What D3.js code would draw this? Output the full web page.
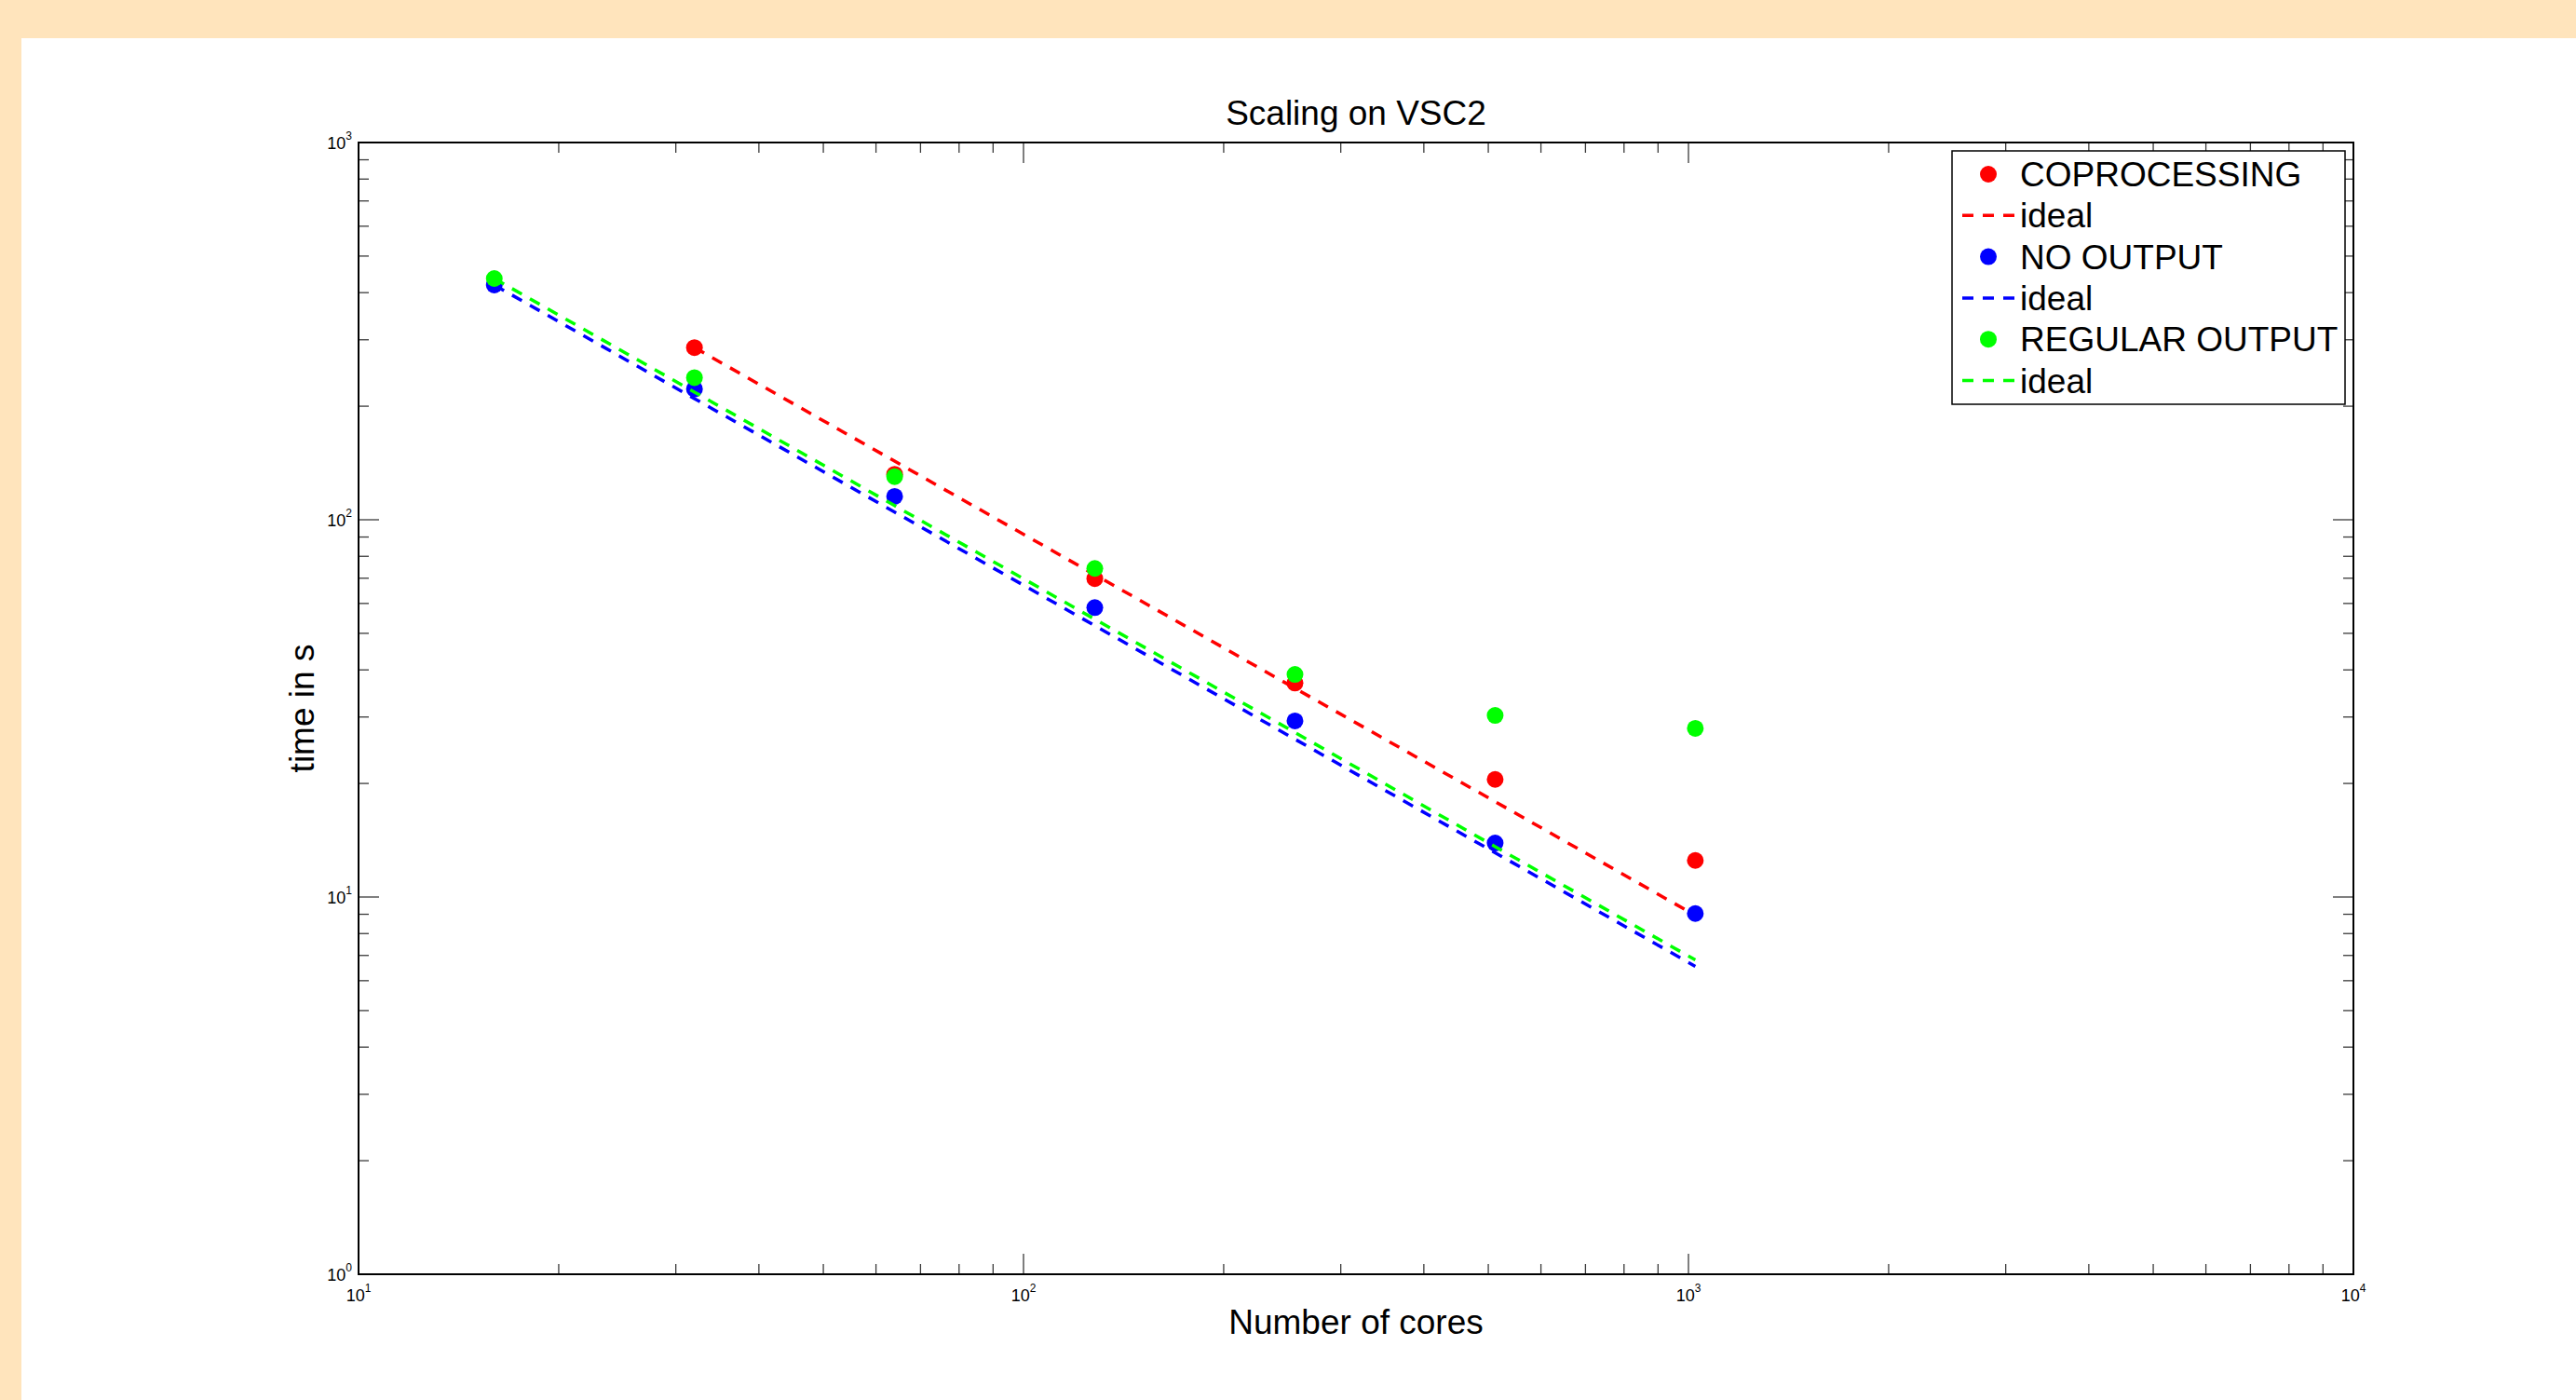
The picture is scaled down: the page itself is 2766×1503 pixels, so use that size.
<!DOCTYPE html>
<html>
<head>
<meta charset="utf-8">
<script src="https://cdn.jsdelivr.net/npm/d3@7"></script>
<style>
  html, body { margin: 0; padding: 0; background: #FFE4BC; }
  svg { display: block; font-family: "Liberation Sans", Arial, Helvetica, sans-serif; }
</style>
</head>
<body>
<svg id="chart" width="2766" height="1503"></svg>
<script>
// DATA
var cores = [16, 32, 64, 128, 256, 512, 1024];
var coprocessing = [null, 286, 132, 69.8, 36.9, 20.5, 12.5];
var noOutput = [419, 222, 115.3, 58.5, 29.3, 13.9, 9.04];
var regularOutput = [436, 238, 130.1, 74.3, 38.9, 30.3, 28.0];

// ideal (linear scaling) lines
var idealCoprocessing = [null, 286, 143, 71.5, 35.75, 17.9, 8.94];
var idealNoOutput = [419, 209.5, 104.8, 52.4, 26.2, 13.1, 6.55];
var idealRegular = [436, 218, 109, 54.5, 27.3, 13.6, 6.81];

var seriesNames = ["COPROCESSING", "NO OUTPUT", "REGULAR OUTPUT"];
var seriesColors = ["#ff0000", "#0000ff", "#00ff00"];
var title = "Scaling on VSC2";
var xLabel = "Number of cores";
var yLabel = "time in s";

// LAYOUT
var W = 2766, H = 1503;
var pLeft = 385, pRight = 2527, pTop = 153, pBottom = 1368;

var svg = d3.select("#chart");

// white page area on the orange frame
svg.append("rect")
    .attr("x", 23).attr("y", 41)
    .attr("width", W - 23).attr("height", H - 41)
    .attr("fill", "#ffffff");

var x = d3.scaleLog().domain([10, 10000]).range([pLeft, pRight]);
var y = d3.scaleLog().domain([1, 1000]).range([pBottom, pTop]);

function isMajor(v) {
    var l = Math.log10(v);
    return Math.abs(l - Math.round(l)) < 1e-9;
}

// TICKS (all four sides, inward)
var ticks = svg.append("g").attr("stroke", "#3a3a3a").attr("stroke-width", 1.3);
x.ticks().forEach(function(v) {
    var len = isMajor(v) ? 22 : 11;
    var px = x(v);
    ticks.append("line").attr("x1", px).attr("x2", px).attr("y1", pBottom).attr("y2", pBottom - len);
    ticks.append("line").attr("x1", px).attr("x2", px).attr("y1", pTop).attr("y2", pTop + len);
});
y.ticks().forEach(function(v) {
    var len = isMajor(v) ? 22 : 11;
    var py = y(v);
    ticks.append("line").attr("x1", pLeft).attr("x2", pLeft + len).attr("y1", py).attr("y2", py);
    ticks.append("line").attr("x1", pRight).attr("x2", pRight - len).attr("y1", py).attr("y2", py);
});

// TICK LABELS  10^n
function powLabel(sel, v) {
    var e = Math.round(Math.log10(v));
    sel.append("tspan").text("10");
    sel.append("tspan").attr("font-size", 12).attr("dy", -10).text(e);
}
x.ticks().filter(isMajor).forEach(function(v) {
    var t = svg.append("text")
        .attr("x", x(v)).attr("y", pBottom + 29)
        .attr("text-anchor", "middle")
        .attr("font-size", 18).attr("fill", "#000");
    powLabel(t, v);
});
y.ticks().filter(isMajor).forEach(function(v) {
    var t = svg.append("text")
        .attr("x", pLeft - 7).attr("y", y(v) + 7)
        .attr("text-anchor", "end")
        .attr("font-size", 18).attr("fill", "#000");
    powLabel(t, v);
});

// BOX
svg.append("rect")
    .attr("x", pLeft).attr("y", pTop)
    .attr("width", pRight - pLeft).attr("height", pBottom - pTop)
    .attr("fill", "none").attr("stroke", "#000").attr("stroke-width", 2);

// TITLE AND AXIS LABELS
svg.append("text")
    .attr("x", (pLeft + pRight) / 2).attr("y", 134)
    .attr("text-anchor", "middle").attr("font-size", 37)
    .text(title);
svg.append("text")
    .attr("x", (pLeft + pRight) / 2).attr("y", 1432)
    .attr("text-anchor", "middle").attr("font-size", 37)
    .text(xLabel);
svg.append("text")
    .attr("transform", "translate(337," + ((pTop + pBottom) / 2) + ") rotate(-90)")
    .attr("text-anchor", "middle").attr("font-size", 37)
    .text(yLabel);

// SERIES
var measured = [coprocessing, noOutput, regularOutput];
var ideal = [idealCoprocessing, idealNoOutput, idealRegular];

var line = d3.line()
    .defined(function(d) { return d[1] != null; })
    .x(function(d) { return x(d[0]); })
    .y(function(d) { return y(d[1]); });

var plot = svg.append("g");
measured.forEach(function(vals, s) {
    var pts = cores.map(function(c, i) { return [c, vals[i]]; })
                   .filter(function(d) { return d[1] != null; });
    plot.selectAll("circle.s" + s)
        .data(pts)
        .enter().append("circle")
        .attr("class", "s" + s)
        .attr("cx", function(d) { return x(d[0]); })
        .attr("cy", function(d) { return y(d[1]); })
        .attr("r", 9)
        .attr("fill", seriesColors[s]);

    var ipts = cores.map(function(c, i) { return [c, ideal[s][i]]; })
                    .filter(function(d) { return d[1] != null; });
    plot.append("path")
        .datum(ipts)
        .attr("d", line)
        .attr("fill", "none")
        .attr("stroke", seriesColors[s])
        .attr("stroke-width", 3.5)
        .attr("stroke-dasharray", "12,10");
});

// LEGEND
var lg = svg.append("g");
lg.append("rect")
    .attr("x", 2096).attr("y", 162)
    .attr("width", 2518 - 2096).attr("height", 434 - 162)
    .attr("fill", "#fff").attr("stroke", "#000").attr("stroke-width", 1.5);

var rowH = 44.3, row0 = 187;
seriesNames.forEach(function(name, s) {
    var cy = row0 + rowH * (2 * s);
    var ly = row0 + rowH * (2 * s + 1);
    lg.append("circle").attr("cx", 2135).attr("cy", cy).attr("r", 9).attr("fill", seriesColors[s]);
    lg.append("text").attr("x", 2169).attr("y", cy + 13).attr("font-size", 37).text(name);
    lg.append("line")
        .attr("x1", 2107).attr("x2", 2163).attr("y1", ly).attr("y2", ly)
        .attr("stroke", seriesColors[s]).attr("stroke-width", 3.5)
        .attr("stroke-dasharray", "12,10");
    lg.append("text").attr("x", 2169).attr("y", ly + 13).attr("font-size", 37).text("ideal");
});
</script>
</body>
</html>
